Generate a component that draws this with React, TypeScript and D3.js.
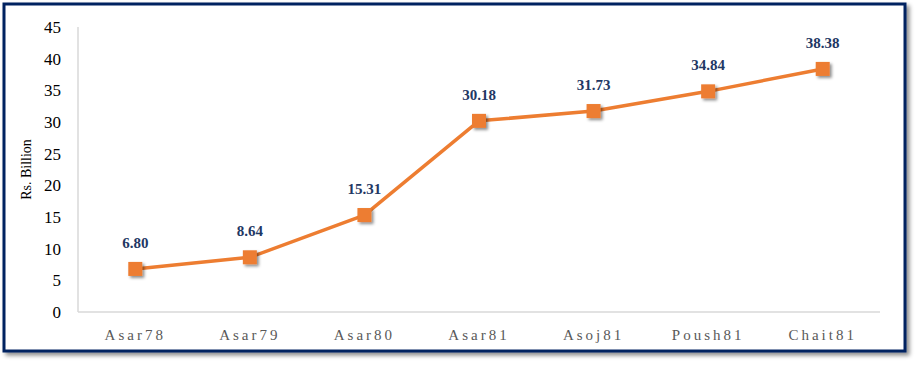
import React from 'react';
import * as d3 from 'd3';

const categories = ['Asar78', 'Asar79', 'Asar80', 'Asar81', 'Asoj81', 'Poush81', 'Chait81'];
const values = [6.8, 8.64, 15.31, 30.18, 31.73, 34.84, 38.38];
const yTicks = [0, 5, 10, 15, 20, 25, 30, 35, 40, 45];

export default function App() {
  const width = 916;
  const height = 368;
  const margin = { top: 27, right: 36, bottom: 56, left: 78 };

  const x = d3.scaleBand<string>()
    .domain(categories)
    .range([margin.left, width - margin.right]);
  const y = d3.scaleLinear()
    .domain([0, 45])
    .range([height - margin.bottom, margin.top]);

  const cx = (c: string) => (x(c) || 0) + x.bandwidth() / 2;
  const line = d3.line<number>()
    .x((_, i) => cx(categories[i]))
    .y(d => y(d));

  const font = '"Liberation Serif", "Times New Roman", serif';
  const orange = '#ED7D31';

  return (
    <svg width={width} height={height}
      style={{ position: 'absolute', left: 0, top: 0, background: '#fff' }}>
      <defs>
        <filter id="boxShadow" x="-5%" y="-5%" width="110%" height="115%">
          <feDropShadow dx="3" dy="3" stdDeviation="2" floodColor="#000" floodOpacity="0.45" />
        </filter>
        <filter id="mkShadow" x="-50%" y="-50%" width="200%" height="200%">
          <feDropShadow dx="2" dy="2" stdDeviation="1.5" floodColor="#000" floodOpacity="0.45" />
        </filter>
      </defs>

      {/* frame */}
      <rect x={4} y={4} width={901} height={347} fill="#fff" stroke="#002060" strokeWidth={3}
        filter="url(#boxShadow)" />

      {/* axes */}
      <line x1={margin.left} x2={margin.left} y1={y(45)} y2={y(0)} stroke="#d9d9d9" strokeWidth={1.5} />
      <line x1={margin.left} x2={width - margin.right} y1={y(0)} y2={y(0)} stroke="#d9d9d9" strokeWidth={1.5} />

      {yTicks.map(t => (
        <text key={t} x={61} y={y(t)} dy="0.35em" textAnchor="end"
          fontFamily={font} fontSize={17} fill="#000">{t}</text>
      ))}

      {categories.map(c => (
        <text key={c} x={cx(c)} y={y(0) + 28} textAnchor="middle"
          fontFamily={font} fontSize={15} fill="#595959" letterSpacing={3}>{c}</text>
      ))}

      <text transform={`translate(31, ${(y(0) + y(45)) / 2}) rotate(-90)`} textAnchor="middle"
        fontFamily={font} fontSize={14} fill="#000">Rs. Billion</text>

      <path d={line(values) || ''} fill="none" stroke={orange} strokeWidth={3.5}
        strokeLinejoin="round" />

      {values.map((v, i) => (
        <rect key={i} x={cx(categories[i]) - 7} y={y(v) - 7} width={14} height={14}
          fill={orange} filter="url(#mkShadow)" />
      ))}

      {values.map((v, i) => (
        <text key={'l' + i} x={cx(categories[i])} y={y(v) - 21} textAnchor="middle"
          fontFamily={font} fontSize={15} fontWeight="bold" fill="#1F3864">{v.toFixed(2)}</text>
      ))}
    </svg>
  );
}
